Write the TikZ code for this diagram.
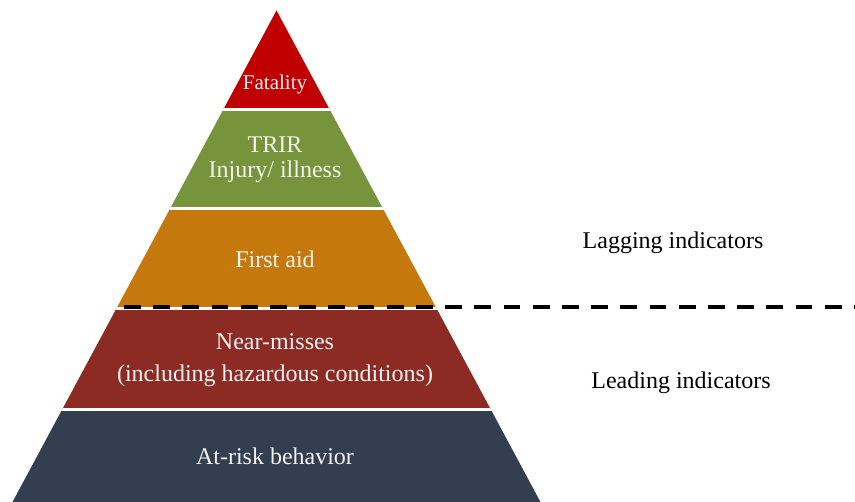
\documentclass[tikz,border=0pt]{standalone}
\usepackage{fontspec}
\setmainfont{Liberation Serif}
\definecolor{fatalred}{HTML}{C00000}
\definecolor{trirgreen}{HTML}{77933C}
\definecolor{aidorange}{HTML}{C5790C}
\definecolor{nearred}{HTML}{8C2B24}
\definecolor{risknavy}{HTML}{333F50}
\definecolor{labelwhite}{HTML}{F2F2F2}
\begin{document}
\begin{tikzpicture}[x=1pt,y=-1pt,
  lbl/.style={text=labelwhite, font=\fontsize{24}{28}\selectfont, anchor=base, inner sep=0pt},
  side/.style={text=black, font=\fontsize{24}{28}\selectfont, anchor=base, inner sep=0pt},
  gap/.style={white, line width=3pt},
  divider/.style={black, line width=4pt, dash pattern=on 16.7pt off 12.5pt}]
\useasboundingbox (0,0) rectangle (855,502);

% pyramid: one triangle cut into five coloured bands
\coordinate (apex) at (276.5,10.5);
\coordinate (baseR) at (540.5,502);
\coordinate (baseL) at (12.5,502);
\begin{scope}
  \clip (apex) -- (baseR) -- (baseL) -- cycle;
  \fill[fatalred]  (0,0)     rectangle (855,109.7);
  \fill[trirgreen] (0,109.7) rectangle (855,208.8);
  \fill[aidorange] (0,208.8) rectangle (855,308.6);
  \fill[nearred]   (0,308.6) rectangle (855,409.1);
  \fill[risknavy]  (0,409.1) rectangle (855,510);
  % white separators between the bands
  \draw[gap] (0,109.7) -- (855,109.7);
  \draw[gap] (0,208.8) -- (855,208.8);
  \draw[gap] (0,308.6) -- (855,308.6);
  \draw[gap] (0,409.1) -- (855,409.1);
\end{scope}

% dashed divider between lagging and leading indicators
\coordinate (divL) at (124,307);
\coordinate (divR) at (856,307);
\draw[divider] (divL) -- (divR);

% band labels
\node[lbl, font=\fontsize{21}{25}\selectfont] (fatality) at (275,90) {Fatality};
\node[lbl] (trir)   at (275,153) {TRIR};
\node[lbl] (injury) at (275,178) {Injury/ illness};
\node[lbl] (firstaid) at (275,268) {First aid};
\node[lbl] (nearmiss) at (275,350) {Near-misses};
\node[lbl] (hazard)   at (275,382) {(including hazardous conditions)};
\node[lbl] (atrisk)   at (275,465) {At-risk behavior};

% side labels
\node[side] (lagging) at (673,249) {Lagging indicators};
\node[side] (leading) at (681,389) {Leading indicators};
\end{tikzpicture}
\end{document}
